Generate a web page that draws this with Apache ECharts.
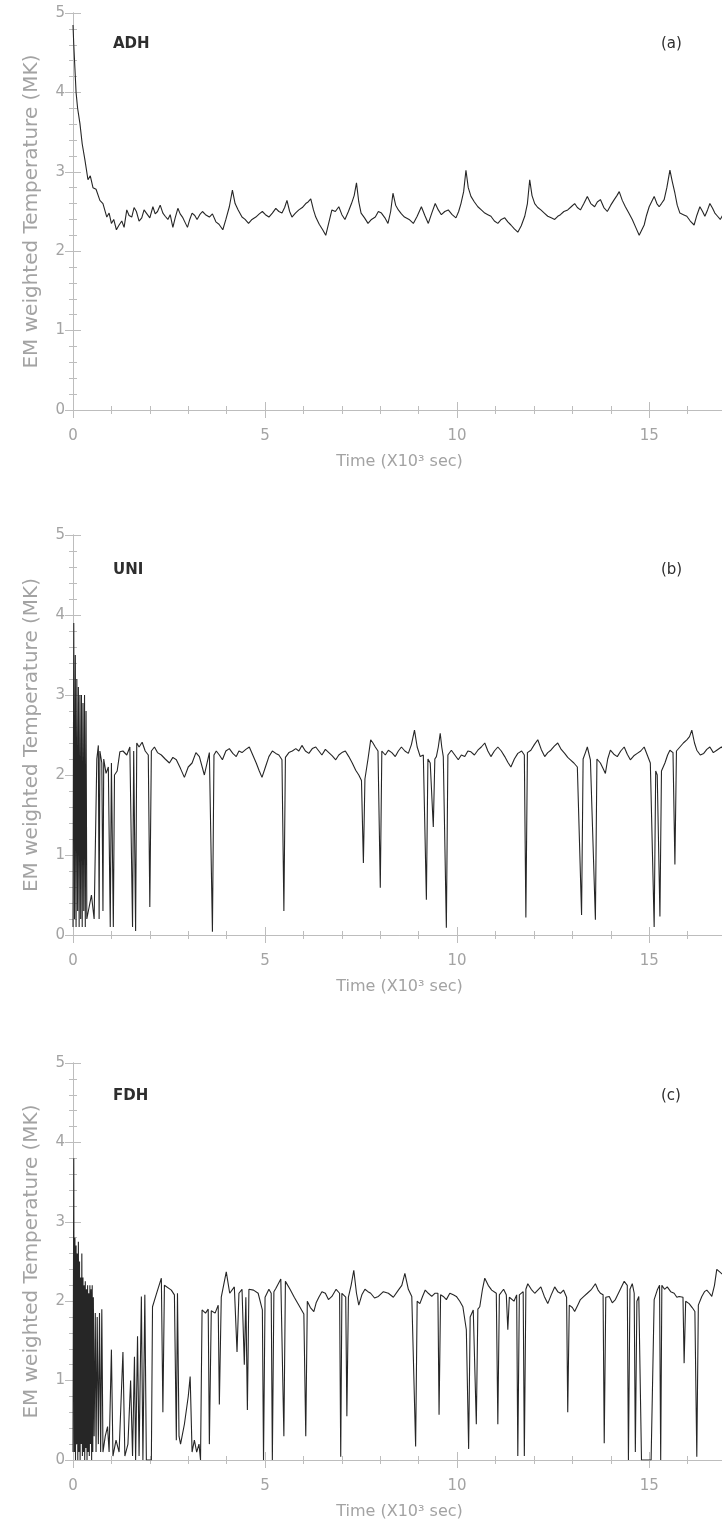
<!DOCTYPE html>
<html><head><meta charset="utf-8">
<script src="https://cdn.jsdelivr.net/npm/echarts@6/dist/echarts.min.js"></script>
<style>html,body{margin:0;padding:0;background:#fff;overflow:hidden}#c{width:729px;height:1532px}</style>
</head><body><div id="c"></div><script>
// ---- data (time in 10^3 s, temperature in MK) ----
const panelNames = ['ADH', 'UNI', 'FDH'];
const panelTags = ['(a)', '(b)', '(c)'];
const xTickValues = [0, 5, 10, 15];
const yTickValues = [0, 1, 2, 3, 4, 5];

const adhSeries = [[0,4.85],[0.02,4.6],[0.05,4.3],[0.08,4.0],[0.12,3.8],[0.18,3.61],[0.24,3.35],[0.31,3.15],[0.39,2.9],[0.45,2.95],[0.52,2.8],[0.6,2.78],[0.7,2.64],[0.78,2.6],[0.88,2.43],[0.94,2.48],[1.0,2.35],[1.06,2.4],[1.13,2.27],[1.2,2.33],[1.27,2.38],[1.33,2.3],[1.4,2.52],[1.46,2.45],[1.53,2.43],[1.59,2.55],[1.65,2.5],[1.72,2.38],[1.79,2.42],[1.85,2.52],[1.91,2.48],[2.0,2.42],[2.08,2.56],[2.14,2.47],[2.2,2.5],[2.27,2.58],[2.34,2.48],[2.4,2.44],[2.47,2.4],[2.53,2.46],[2.6,2.3],[2.66,2.42],[2.73,2.54],[2.79,2.47],[2.85,2.43],[2.92,2.36],[2.98,2.3],[3.04,2.4],[3.1,2.48],[3.17,2.45],[3.23,2.4],[3.3,2.46],[3.37,2.5],[3.45,2.46],[3.55,2.43],[3.63,2.47],[3.72,2.37],[3.8,2.34],[3.9,2.27],[3.98,2.4],[4.07,2.56],[4.15,2.77],[4.22,2.6],[4.3,2.52],[4.4,2.43],[4.48,2.4],[4.57,2.35],[4.66,2.4],[4.76,2.43],[4.85,2.47],[4.93,2.5],[5.01,2.46],[5.1,2.43],[5.19,2.48],[5.28,2.54],[5.36,2.5],[5.44,2.48],[5.51,2.55],[5.57,2.64],[5.64,2.5],[5.7,2.43],[5.79,2.48],[5.88,2.52],[5.97,2.55],[6.06,2.6],[6.12,2.62],[6.19,2.66],[6.26,2.52],[6.32,2.43],[6.41,2.34],[6.5,2.27],[6.58,2.2],[6.66,2.36],[6.74,2.52],[6.83,2.5],[6.92,2.56],[7.0,2.46],[7.08,2.4],[7.17,2.5],[7.25,2.6],[7.32,2.7],[7.38,2.86],[7.44,2.62],[7.5,2.48],[7.59,2.42],[7.68,2.35],[7.77,2.4],[7.87,2.43],[7.95,2.5],[8.03,2.48],[8.12,2.42],[8.2,2.35],[8.27,2.5],[8.33,2.73],[8.4,2.58],[8.47,2.52],[8.55,2.47],[8.63,2.43],[8.75,2.4],[8.86,2.35],[8.96,2.44],[9.07,2.56],[9.16,2.45],[9.25,2.35],[9.34,2.48],[9.43,2.6],[9.51,2.52],[9.59,2.46],[9.68,2.5],[9.77,2.52],[9.87,2.46],[9.97,2.42],[10.04,2.5],[10.1,2.6],[10.17,2.75],[10.23,3.02],[10.29,2.8],[10.36,2.69],[10.45,2.62],[10.54,2.56],[10.63,2.52],[10.72,2.48],[10.8,2.46],[10.88,2.44],[10.97,2.38],[11.06,2.35],[11.15,2.4],[11.24,2.42],[11.32,2.37],[11.4,2.33],[11.49,2.28],[11.58,2.24],[11.67,2.32],[11.76,2.44],[11.83,2.6],[11.89,2.9],[11.95,2.7],[12.02,2.6],[12.1,2.55],[12.18,2.52],[12.27,2.48],[12.36,2.44],[12.45,2.42],[12.54,2.4],[12.62,2.44],[12.69,2.46],[12.78,2.5],[12.88,2.52],[12.97,2.56],[13.06,2.6],[13.13,2.55],[13.21,2.52],[13.3,2.6],[13.39,2.69],[13.48,2.6],[13.58,2.56],[13.65,2.62],[13.73,2.65],[13.82,2.55],[13.91,2.5],[14.0,2.58],[14.09,2.65],[14.16,2.7],[14.22,2.75],[14.3,2.64],[14.38,2.56],[14.47,2.48],[14.56,2.4],[14.65,2.3],[14.74,2.2],[14.8,2.26],[14.87,2.33],[14.93,2.45],[15.0,2.56],[15.06,2.62],[15.13,2.69],[15.2,2.6],[15.26,2.56],[15.32,2.6],[15.39,2.65],[15.46,2.8],[15.54,3.02],[15.6,2.88],[15.67,2.73],[15.73,2.58],[15.8,2.48],[15.89,2.46],[15.98,2.44],[16.07,2.38],[16.17,2.33],[16.24,2.45],[16.32,2.56],[16.39,2.5],[16.45,2.44],[16.52,2.52],[16.58,2.6],[16.65,2.54],[16.71,2.48],[16.78,2.44],[16.85,2.4],[16.92,2.46],[17.0,2.45]];

const uniSeries = [[0,0.1],[0.02,3.9],[0.04,0.2],[0.06,3.5],[0.08,0.1],[0.1,3.2],[0.12,0.3],[0.14,3.1],[0.16,0.1],[0.18,3.0],[0.2,0.2],[0.22,3.0],[0.24,0.1],[0.26,2.9],[0.28,0.3],[0.3,3.0],[0.32,0.1],[0.34,2.8],[0.36,0.2],[0.4,0.3],[0.48,0.5],[0.55,0.2],[0.62,2.2],[0.66,2.37],[0.68,0.2],[0.7,2.3],[0.75,2.15],[0.78,0.3],[0.8,2.2],[0.86,2.02],[0.92,2.1],[0.97,0.1],[1.0,2.15],[1.05,0.1],[1.08,2.0],[1.15,2.05],[1.22,2.29],[1.3,2.3],[1.4,2.25],[1.48,2.35],[1.55,0.1],[1.58,2.3],[1.63,0.05],[1.66,2.4],[1.72,2.35],[1.8,2.41],[1.88,2.3],[1.96,2.25],[2.0,0.35],[2.04,2.3],[2.12,2.35],[2.2,2.28],[2.3,2.25],[2.4,2.2],[2.51,2.15],[2.6,2.22],[2.69,2.19],[2.8,2.08],[2.9,1.97],[3.0,2.1],[3.1,2.15],[3.2,2.28],[3.29,2.23],[3.42,2.0],[3.55,2.28],[3.63,0.04],[3.67,2.25],[3.73,2.3],[3.81,2.25],[3.89,2.19],[3.98,2.3],[4.07,2.33],[4.16,2.27],[4.25,2.23],[4.32,2.3],[4.4,2.28],[4.5,2.32],[4.59,2.35],[4.68,2.25],[4.77,2.15],[4.85,2.05],[4.92,1.97],[5.01,2.1],[5.1,2.23],[5.19,2.3],[5.28,2.27],[5.36,2.25],[5.44,2.19],[5.49,0.3],[5.53,2.22],[5.62,2.28],[5.71,2.3],[5.8,2.33],[5.88,2.3],[5.96,2.37],[6.05,2.3],[6.14,2.27],[6.23,2.33],[6.32,2.35],[6.4,2.3],[6.48,2.25],[6.57,2.32],[6.66,2.28],[6.75,2.24],[6.84,2.19],[6.92,2.25],[7.0,2.28],[7.09,2.3],[7.18,2.23],[7.27,2.15],[7.36,2.06],[7.44,2.0],[7.51,1.93],[7.56,0.9],[7.6,1.95],[7.68,2.2],[7.75,2.44],[7.81,2.4],[7.87,2.35],[7.94,2.3],[8.0,0.59],[8.04,2.3],[8.13,2.25],[8.21,2.31],[8.3,2.28],[8.39,2.23],[8.47,2.3],[8.55,2.35],[8.64,2.3],[8.73,2.27],[8.81,2.38],[8.89,2.56],[8.96,2.35],[9.04,2.23],[9.12,2.25],[9.2,0.44],[9.24,2.2],[9.3,2.15],[9.38,1.35],[9.42,2.2],[9.46,2.23],[9.51,2.35],[9.56,2.52],[9.6,2.35],[9.64,2.23],[9.72,0.09],[9.76,2.25],[9.85,2.31],[9.94,2.25],[10.03,2.19],[10.11,2.25],[10.2,2.23],[10.28,2.3],[10.36,2.29],[10.45,2.25],[10.54,2.31],[10.63,2.35],[10.72,2.4],[10.8,2.3],[10.88,2.23],[10.97,2.3],[11.06,2.35],[11.15,2.3],[11.24,2.23],[11.32,2.16],[11.4,2.1],[11.49,2.2],[11.58,2.27],[11.68,2.3],[11.75,2.25],[11.79,0.22],[11.83,2.28],[11.92,2.31],[12.01,2.38],[12.1,2.44],[12.19,2.32],[12.28,2.23],[12.36,2.28],[12.44,2.31],[12.53,2.36],[12.62,2.4],[12.71,2.32],[12.8,2.27],[12.88,2.22],[12.95,2.19],[13.04,2.15],[13.13,2.1],[13.24,0.25],[13.28,2.2],[13.34,2.28],[13.39,2.35],[13.47,2.19],[13.6,0.19],[13.64,2.2],[13.73,2.15],[13.8,2.08],[13.86,2.02],[13.92,2.2],[13.99,2.31],[14.08,2.26],[14.17,2.23],[14.26,2.3],[14.35,2.35],[14.43,2.26],[14.51,2.19],[14.6,2.24],[14.69,2.27],[14.78,2.3],[14.87,2.35],[14.95,2.25],[15.03,2.15],[15.13,0.1],[15.17,2.05],[15.21,2.0],[15.28,0.23],[15.32,2.05],[15.41,2.15],[15.48,2.25],[15.54,2.31],[15.62,2.28],[15.67,0.88],[15.71,2.3],[15.8,2.35],[15.89,2.4],[15.98,2.44],[16.05,2.48],[16.11,2.56],[16.18,2.4],[16.24,2.31],[16.33,2.25],[16.42,2.27],[16.5,2.32],[16.58,2.35],[16.67,2.28],[16.76,2.31],[16.88,2.35],[17.0,2.3]];

const fdhSeries = [[0,0.1],[0.02,3.8],[0.035,0.1],[0.05,2.8],[0.065,0.0],[0.08,2.7],[0.095,0.2],[0.11,2.6],[0.125,0.0],[0.14,2.75],[0.155,0.1],[0.17,2.5],[0.185,0.0],[0.2,2.3],[0.215,0.2],[0.23,2.6],[0.245,0.05],[0.26,2.3],[0.275,0.1],[0.29,2.2],[0.305,0.0],[0.32,2.25],[0.335,0.15],[0.35,2.15],[0.365,0.0],[0.38,2.2],[0.395,0.1],[0.41,2.1],[0.425,0.05],[0.44,2.2],[0.455,0.2],[0.47,2.15],[0.485,0.0],[0.5,2.2],[0.515,0.1],[0.53,2.05],[0.55,0.3],[0.58,1.85],[0.6,0.1],[0.63,1.8],[0.66,0.2],[0.69,1.85],[0.72,0.1],[0.75,1.9],[0.78,0.1],[0.84,0.3],[0.9,0.42],[0.94,0.1],[1.0,1.39],[1.04,0.05],[1.12,0.25],[1.2,0.1],[1.3,1.36],[1.35,0.05],[1.43,0.2],[1.5,1.0],[1.55,0.05],[1.6,1.3],[1.63,0.0],[1.68,1.56],[1.72,0.05],[1.78,2.06],[1.82,0.0],[1.87,2.08],[1.91,0.0],[2.04,0.0],[2.07,1.93],[2.17,2.09],[2.3,2.29],[2.34,0.6],[2.38,2.2],[2.43,2.18],[2.56,2.14],[2.64,2.08],[2.69,0.25],[2.72,2.1],[2.76,0.3],[2.8,0.2],[2.9,0.45],[3.0,0.8],[3.05,1.05],[3.1,0.1],[3.16,0.25],[3.22,0.1],[3.28,0.2],[3.32,0.0],[3.36,1.89],[3.45,1.85],[3.52,1.9],[3.55,0.2],[3.6,1.88],[3.7,1.85],[3.78,1.95],[3.81,0.7],[3.86,2.05],[3.99,2.37],[4.08,2.1],[4.2,2.18],[4.27,1.36],[4.32,2.1],[4.4,2.15],[4.46,1.2],[4.5,2.05],[4.54,0.63],[4.58,2.15],[4.7,2.14],[4.82,2.1],[4.93,1.89],[4.96,0.0],[5.0,2.05],[5.1,2.15],[5.16,2.1],[5.19,0.0],[5.23,2.12],[5.28,2.16],[5.41,2.28],[5.49,0.3],[5.53,2.25],[5.65,2.15],[5.76,2.05],[5.88,1.95],[6.01,1.84],[6.06,0.3],[6.1,2.0],[6.18,1.92],[6.27,1.87],[6.33,1.98],[6.4,2.05],[6.48,2.12],[6.57,2.1],[6.65,2.02],[6.74,2.06],[6.85,2.15],[6.94,2.1],[6.97,0.04],[7.0,2.1],[7.1,2.05],[7.13,0.55],[7.17,2.05],[7.24,2.2],[7.31,2.39],[7.38,2.1],[7.44,1.95],[7.52,2.08],[7.6,2.15],[7.68,2.12],[7.75,2.1],[7.85,2.04],[7.95,2.06],[8.08,2.12],[8.21,2.1],[8.34,2.05],[8.47,2.14],[8.56,2.2],[8.64,2.35],[8.73,2.15],[8.82,2.06],[8.92,0.17],[8.96,2.0],[9.03,1.97],[9.1,2.06],[9.17,2.14],[9.25,2.1],[9.34,2.06],[9.42,2.1],[9.5,2.1],[9.53,0.57],[9.57,2.08],[9.64,2.06],[9.72,2.02],[9.81,2.1],[9.9,2.08],[9.98,2.06],[10.07,2.0],[10.15,1.93],[10.24,1.64],[10.3,0.14],[10.34,1.8],[10.42,1.89],[10.5,0.45],[10.54,1.9],[10.59,1.93],[10.66,2.15],[10.72,2.29],[10.81,2.2],[10.9,2.14],[11.02,2.1],[11.06,0.45],[11.1,2.08],[11.14,2.1],[11.21,2.15],[11.28,2.08],[11.32,1.64],[11.36,2.05],[11.41,2.06],[11.48,2.0],[11.55,2.08],[11.58,0.05],[11.62,2.08],[11.67,2.1],[11.72,2.12],[11.75,0.05],[11.79,2.15],[11.84,2.22],[11.93,2.15],[12.02,2.1],[12.1,2.14],[12.18,2.18],[12.27,2.06],[12.36,1.97],[12.45,2.08],[12.54,2.18],[12.62,2.12],[12.69,2.1],[12.77,2.14],[12.85,2.05],[12.88,0.6],[12.92,1.95],[13.0,1.92],[13.06,1.87],[13.14,1.95],[13.21,2.02],[13.3,2.06],[13.39,2.1],[13.5,2.15],[13.6,2.22],[13.67,2.14],[13.73,2.1],[13.8,2.08],[13.83,0.21],[13.87,2.05],[13.96,2.06],[14.04,1.98],[14.12,2.02],[14.24,2.14],[14.35,2.25],[14.43,2.2],[14.46,0.0],[14.5,2.15],[14.56,2.22],[14.61,2.1],[14.64,0.1],[14.68,2.0],[14.73,2.06],[14.8,0.0],[15.05,0.0],[15.13,2.02],[15.21,2.14],[15.27,2.2],[15.3,0.0],[15.33,2.2],[15.4,2.15],[15.47,2.18],[15.56,2.12],[15.65,2.1],[15.72,2.05],[15.78,2.06],[15.88,2.05],[15.91,1.22],[15.95,2.0],[16.04,1.97],[16.12,1.92],[16.19,1.87],[16.22,1.85],[16.24,0.04],[16.28,1.95],[16.37,2.06],[16.44,2.12],[16.5,2.14],[16.57,2.1],[16.63,2.06],[16.7,2.2],[16.76,2.4],[16.88,2.35],[17.0,2.3]];

const seriesList = [adhSeries, uniSeries, fdhSeries];
const yAxisName = 'EM weighted Temperature (MK)';
const xAxisName = 'Time (X10\u00b3 sec)';

// ---- layout ----
const gridTops = [13, 535, 1063];
const gridHeights = [397, 400, 397];
const labelTops = [37, 563, 1089];
const axisGray = '#bdbdbd';
const textGray = '#a3a3a3';
const font = 'DejaVu Sans';

const chart = echarts.init(document.getElementById('c'), null, {renderer: 'canvas'});
const grids = [], xAxes = [], yAxes = [], series = [], graphics = [];
for (let i = 0; i < 3; i++) {
  grids.push({left: 73, right: 0, top: gridTops[i], height: gridHeights[i]});
  const xBase = {
    type: 'value', gridIndex: i, min: 0, max: 17, interval: 5,
    axisLine: {show: true, lineStyle: {color: axisGray, width: 1}},
    axisTick: {show: true, inside: true, length: 8, lineStyle: {color: axisGray}},
    minorTick: {show: true, splitNumber: 5, length: 4, lineStyle: {color: axisGray}},
    splitLine: {show: false}
  };
  xAxes.push(Object.assign({}, xBase, {
    position: 'bottom',
    axisLabel: {color: textGray, fontSize: 15, fontFamily: font, margin: 19,
      formatter: v => xTickValues.includes(v) ? String(v) : ''},
    name: xAxisName, nameLocation: 'middle', nameGap: 44,
    nameTextStyle: {color: textGray, fontSize: 16, fontFamily: font}
  }));
  xAxes.push(Object.assign({}, xBase, {position: 'top', axisLabel: {show: false}}));
  const yBase = {
    type: 'value', gridIndex: i, min: 0, max: 5, interval: 1,
    axisLine: {show: true, lineStyle: {color: axisGray, width: 1}},
    axisTick: {show: true, inside: true, length: 8, lineStyle: {color: axisGray}},
    minorTick: {show: true, splitNumber: 5, length: 4, lineStyle: {color: axisGray}},
    splitLine: {show: false}
  };
  yAxes.push(Object.assign({}, yBase, {
    position: 'left',
    axisLabel: {color: textGray, fontSize: 15, fontFamily: font, margin: 8,
      formatter: v => yTickValues.includes(v) ? String(v) : ''},
    name: yAxisName, nameLocation: 'middle', nameGap: 31, nameRotate: 90,
    nameTextStyle: {color: textGray, fontSize: 20, fontFamily: font}
  }));
  yAxes.push(Object.assign({}, yBase, {position: 'right', axisLabel: {show: false}}));
  series.push({
    type: 'line', xAxisIndex: i * 2, yAxisIndex: i * 2, data: seriesList[i],
    showSymbol: false, symbol: 'none', animation: false,
    lineStyle: {color: '#262626', width: 1.1}, z: 3
  });
  graphics.push({type: 'text', left: 113, top: labelTops[i],
    style: {text: panelNames[i], fill: '#2e2e2e', font: 'bold 15px "DejaVu Sans"'}});
  graphics.push({type: 'text', left: 661, top: labelTops[i],
    style: {text: panelTags[i], fill: '#2e2e2e', font: '15px "DejaVu Sans"'}});
}
chart.setOption({
  backgroundColor: '#fff', animation: false,
  grid: grids, xAxis: xAxes, yAxis: yAxes, series: series, graphic: graphics
});
</script></body></html>
